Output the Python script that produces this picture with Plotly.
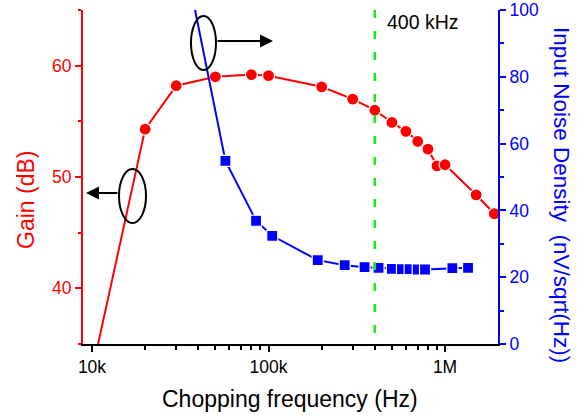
import plotly.graph_objects as go

# ---- data ----
freq_gain_khz = [10, 20, 30, 50, 80, 100, 200, 300, 400, 500, 600, 700, 800, 900, 1000, 1500, 1900]
gain_db = [32.5, 54.3, 58.2, 59.0, 59.2, 59.1, 58.1, 57.0, 56.0, 54.9, 54.1, 53.2, 52.5, 51.0, 51.1, 48.4, 46.7]

freq_noise_khz = [30, 57, 85, 105, 190, 270, 350, 420, 500, 570, 630, 700, 770, 1100, 1350]
noise_nv = [128, 54.8, 36.9, 32.4, 25.1, 23.6, 23.0, 22.8, 22.5, 22.4, 22.4, 22.3, 22.3, 22.7, 22.8]

marker_freq_khz = [400, 400]
marker_level = [100, 0]

x_tick_vals = [1e4, 1e5, 1e6]
x_tick_text = ["10k", "100k", "1M"]
x_minor_vals = [2e4, 3e4, 4e4, 5e4, 6e4, 7e4, 8e4, 9e4,
                2e5, 3e5, 4e5, 5e5, 6e5, 7e5, 8e5, 9e5, 2e6]

FONT = "Arial, Liberation Sans, sans-serif"
RED = "#ff0000"
BLUE = "#0000ff"

W, H = 586, 419
L, R, T, B = 83, 88, 10, 75
PW, PH = W - L - R, H - T - B


def px(xp):
    return (xp - L) / PW


def py(yp):
    return (H - B - yp) / PH


fig = go.Figure()

fig.add_trace(go.Scatter(
    x=[f * 1e3 for f in freq_gain_khz], y=gain_db, mode="lines+markers",
    line=dict(color=RED, width=2),
    marker=dict(symbol="circle", size=12, color=RED, line=dict(color="white", width=1.2)),
    yaxis="y", showlegend=False))

fig.add_trace(go.Scatter(
    x=[f * 1e3 for f in freq_noise_khz], y=noise_nv, mode="lines+markers",
    line=dict(color=BLUE, width=2),
    marker=dict(symbol="square", size=11, color=BLUE, line=dict(color="white", width=1.2)),
    yaxis="y2", showlegend=False))

fig.add_trace(go.Scatter(
    x=[f * 1e3 for f in marker_freq_khz], y=marker_level, mode="lines",
    line=dict(color="#11ee11", width=2.5, dash="8px,13px"),
    yaxis="y2", showlegend=False, hoverinfo="skip"))

fig.update_layout(
    width=W, height=H,
    margin=dict(l=L, r=R, t=T, b=B, autoexpand=False),
    paper_bgcolor="white", plot_bgcolor="white",
    font=dict(family=FONT, size=17, color="black"),
    xaxis=dict(
        type="log", range=[3.949, 6.300], automargin=False,
        showgrid=False, zeroline=False,
        showline=True, linecolor="black", linewidth=2,
        ticks="outside", ticklen=6, tickwidth=2, tickcolor="black",
        tickmode="array", tickvals=x_tick_vals, ticktext=x_tick_text,
        tickfont=dict(size=17.5, color="black"),
        minor=dict(ticks="outside", ticklen=3.5, tickwidth=2, tickcolor="black",
                   tickmode="array", tickvals=x_minor_vals),
    ),
    yaxis=dict(
        range=[35, 65], side="left", automargin=False,
        showgrid=False, zeroline=False,
        showline=True, linecolor=RED, linewidth=2,
        ticks="outside", ticklen=6, tickwidth=2, tickcolor=RED,
        tickmode="array", tickvals=[40, 50, 60],
        tickfont=dict(size=17.5, color=RED),
        minor=dict(ticks="outside", ticklen=3.5, tickwidth=2, tickcolor=RED,
                   tickmode="array", tickvals=[35, 45, 55, 65]),
    ),
    yaxis2=dict(
        range=[0, 100], side="right", overlaying="y", anchor="x", automargin=False,
        showgrid=False, zeroline=False,
        showline=True, linecolor=BLUE, linewidth=2,
        ticks="outside", ticklen=6, tickwidth=2, tickcolor=BLUE,
        tickmode="array", tickvals=[0, 20, 40, 60, 80, 100],
        tickfont=dict(size=17.5, color=BLUE),
        minor=dict(ticks="outside", ticklen=3.5, tickwidth=2, tickcolor=BLUE,
                   tickmode="array", tickvals=[10, 30, 50, 70, 90]),
    ),
)

# axis titles as annotations for precise placement
fig.add_annotation(text="Chopping frequency (Hz)", xref="paper", yref="paper",
                   x=px(290), y=py(399), showarrow=False,
                   font=dict(size=23, color="black"), xanchor="center", yanchor="middle")
fig.add_annotation(text="Gain (dB)", xref="paper", yref="paper",
                   x=px(26), y=py(200), showarrow=False, textangle=-90,
                   font=dict(size=23, color=RED), xanchor="center", yanchor="middle")
fig.add_annotation(text="Input Noise Density  (nV/sqrt(Hz))", xref="paper", yref="paper",
                   x=px(562), y=py(195), showarrow=False, textangle=90,
                   font=dict(size=22.5, color=BLUE), xanchor="center", yanchor="middle")

fig.add_annotation(text="400 kHz", xref="paper", yref="paper",
                   x=px(385), y=py(22), showarrow=False,
                   font=dict(size=19.5, color="black"), xanchor="left", yanchor="middle")

# ellipses and arrows
fig.add_shape(type="circle", xref="paper", yref="paper",
              x0=px(191), x1=px(216), y0=py(70), y1=py(16),
              line=dict(color="black", width=2))
fig.add_shape(type="circle", xref="paper", yref="paper",
              x0=px(119), x1=px(146), y0=py(223), y1=py(169),
              line=dict(color="black", width=2))

fig.add_annotation(xref="paper", yref="paper", x=px(273), y=py(41),
                   ax=-57, ay=0, showarrow=True, arrowhead=2, arrowsize=1.3,
                   arrowwidth=2, arrowcolor="black", text="", standoff=0)
fig.add_annotation(xref="paper", yref="paper", x=px(86), y=py(193),
                   ax=33, ay=0, showarrow=True, arrowhead=2, arrowsize=1.3,
                   arrowwidth=2, arrowcolor="black", text="", standoff=0)

fig.write_html("out.html",
               config={"displayModeBar": False},
               post_script="document.body.style.margin='0';document.body.style.padding='0';")
